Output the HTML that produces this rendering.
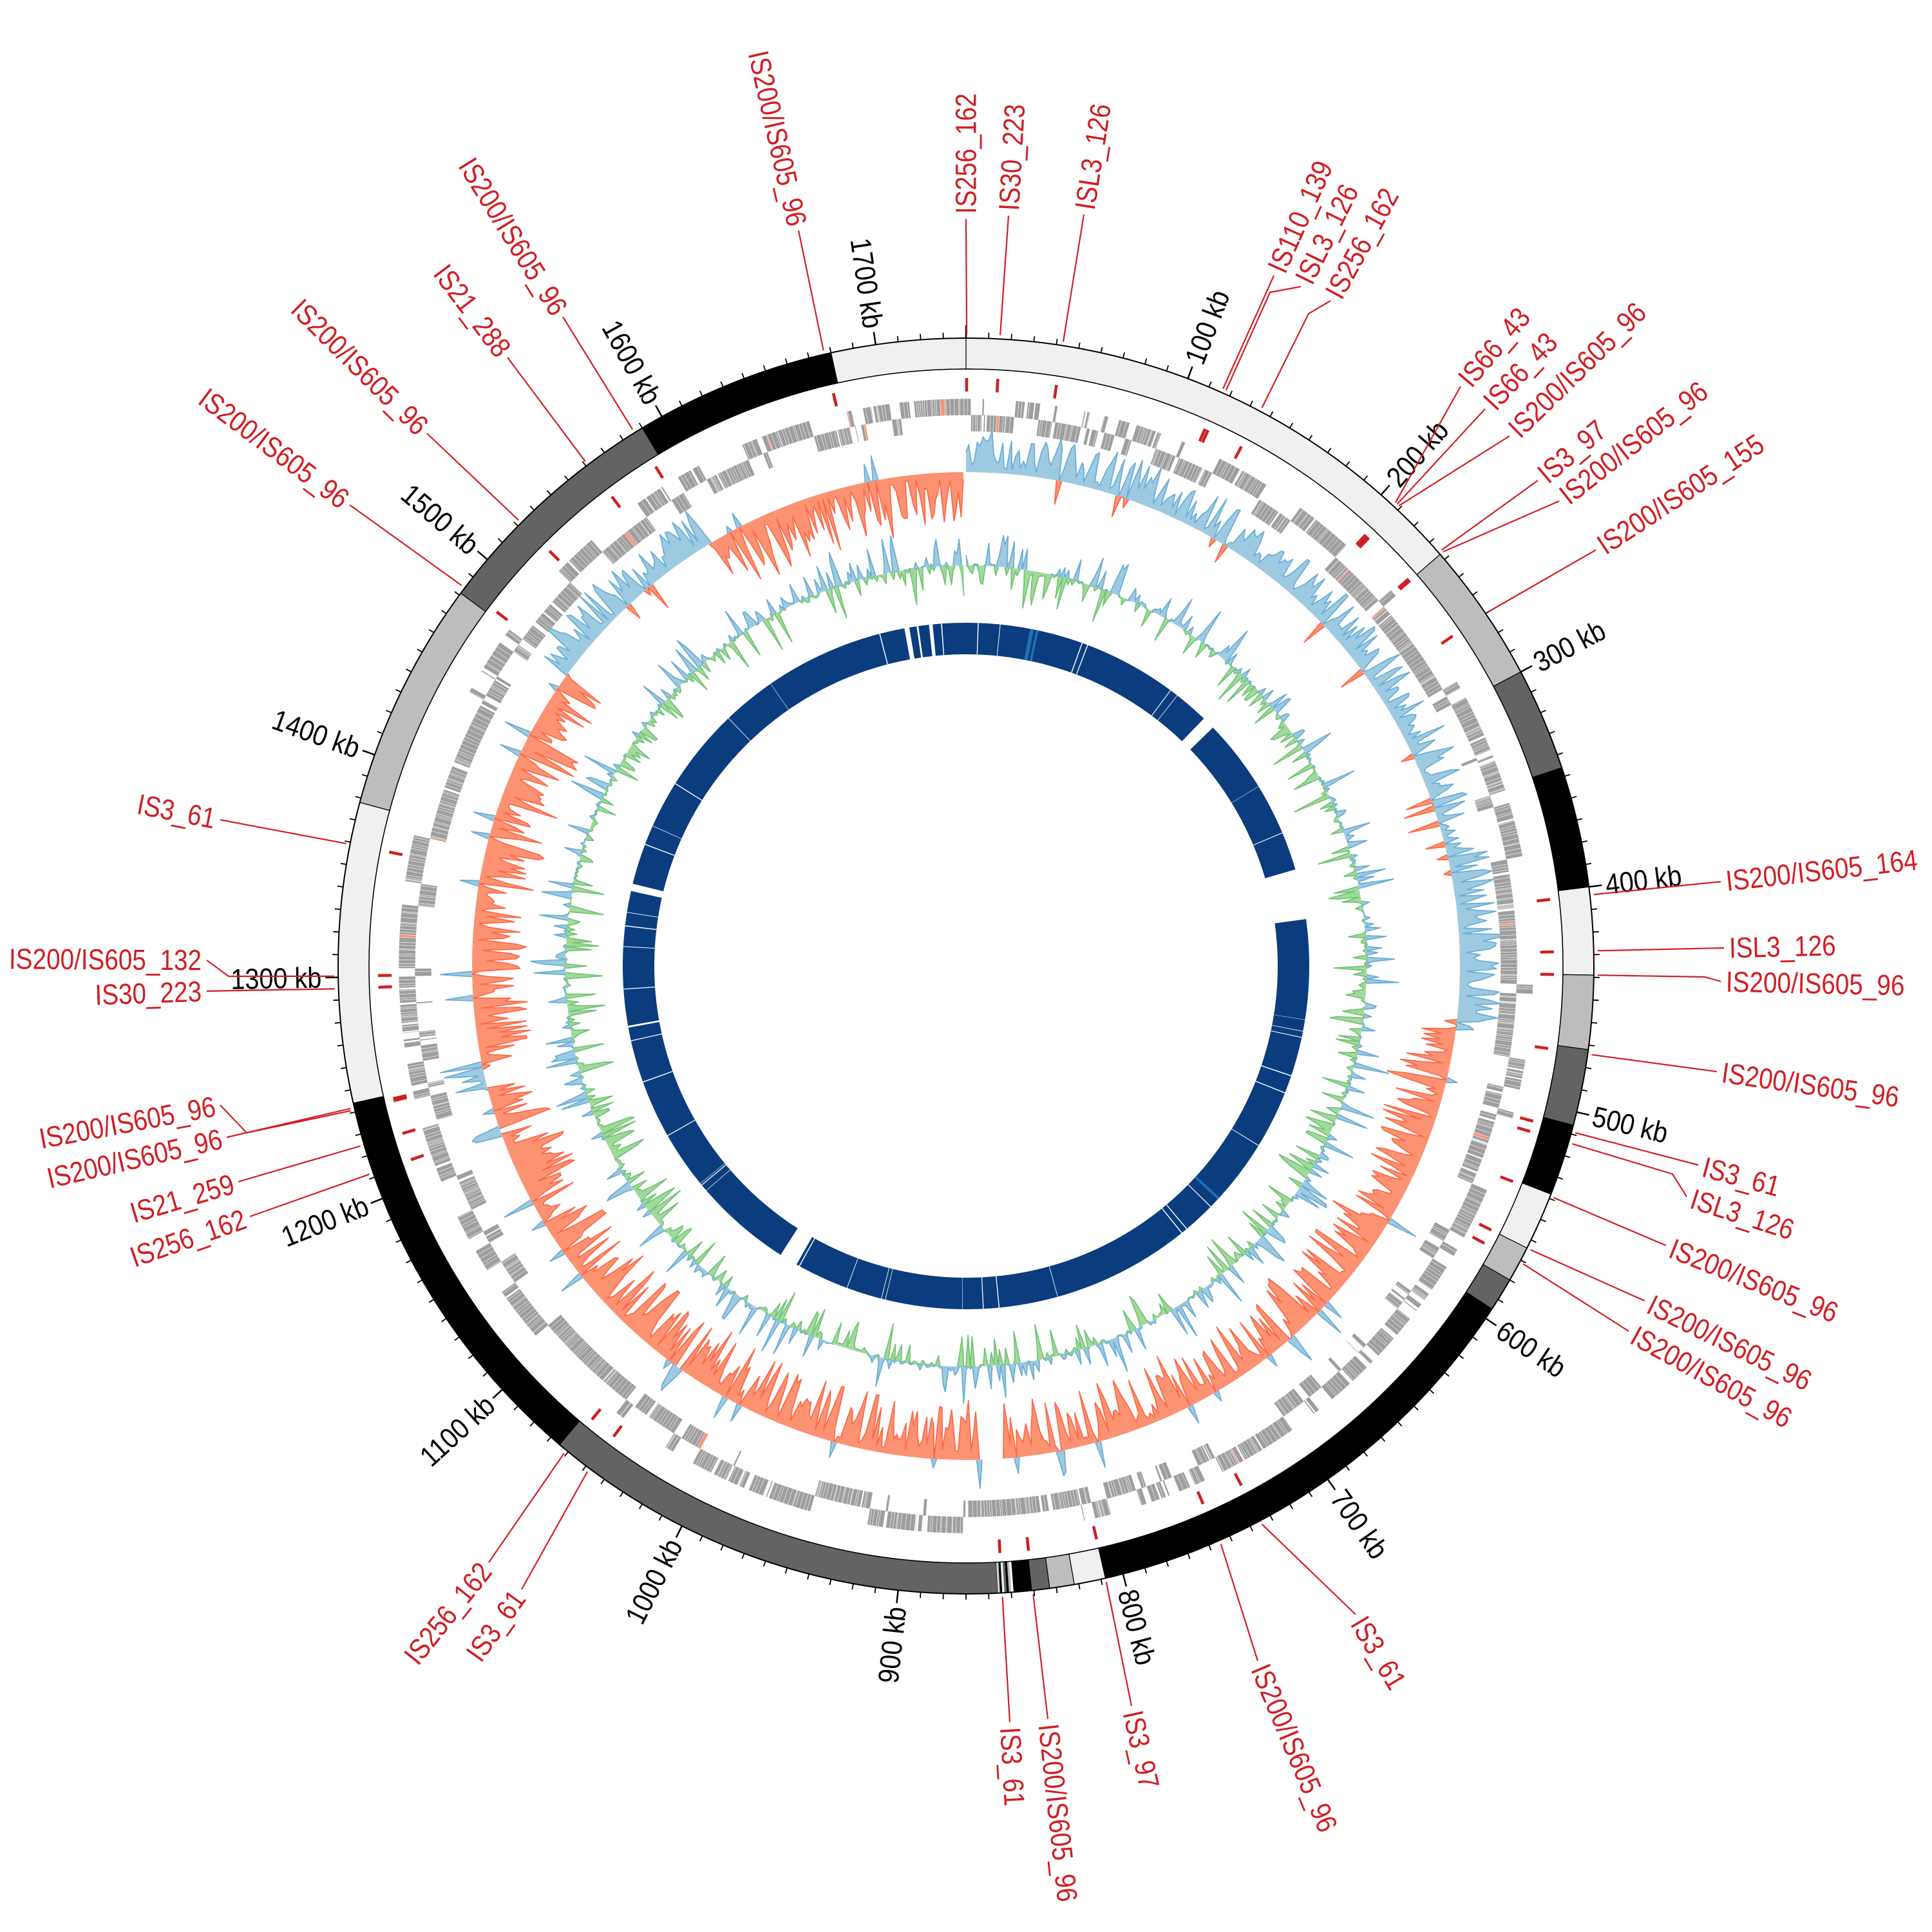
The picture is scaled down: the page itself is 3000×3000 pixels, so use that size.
<!DOCTYPE html>
<html><head><meta charset="utf-8">
<style>html,body{margin:0;padding:0;background:#fff}svg{display:block}</style>
</head><body>
<svg id="s" xmlns="http://www.w3.org/2000/svg" width="3000" height="3000" viewBox="0 0 3000 3000"></svg>
<script>
(function(){
const S=document.getElementById('s');
const C=1500,L=1740,R=975,RIN=927,RED='#cf1f25';
let seed=12345;function rnd(){seed|=0;seed=seed+0x6D2B79F5|0;let t=Math.imul(seed^seed>>>15,1|seed);t=t+Math.imul(t^t>>>7,61|t)^t;return((t^t>>>14)>>>0)/4294967296;}
function P(kb,r){const a=kb/L*2*Math.PI;return[C+r*Math.sin(a),C-r*Math.cos(a)];}
function f(v){return v.toFixed(1);}
let out=[];
function arc(k1,k2,r1,r2,fill,extra){
  const n=Math.max(2,Math.ceil((k2-k1)/2));let pts=[];
  for(let i=0;i<=n;i++){const p=P(k1+(k2-k1)*i/n,r2);pts.push(f(p[0])+','+f(p[1]));}
  for(let i=n;i>=0;i--){const p=P(k1+(k2-k1)*i/n,r1);pts.push(f(p[0])+','+f(p[1]));}
  out.push('<polygon points="'+pts.join(' ')+'" fill="'+fill+'" '+(extra||'')+'/>');
}
function circle(r,st,w){out.push('<circle cx="'+C+'" cy="'+C+'" r="'+r+'" fill="none" stroke="'+st+'" stroke-width="'+w+'"/>');}
const segs=[[0,237,'#f0f0f0'],[237,300,'#bdbdbd'],[300,346,'#636363'],[346,400,'#000'],[400,439,'#f0f0f0'],[439,472,'#bdbdbd'],[472,506,'#636363'],[506,538,'#000'],[538,564,'#f0f0f0'],[564,580,'#bdbdbd'],[580,595,'#636363'],[595,808,'#000'],[808,822,'#f0f0f0'],[822,833,'#bdbdbd'],[833,841,'#636363'],[841,848,'#000'],[848,856,'#999'],[856,1065,'#636363'],[1065,1244,'#000'],[1244,1378,'#f0f0f0'],[1378,1481,'#bdbdbd'],[1481,1590,'#636363'],[1590,1680,'#000'],[1680,1740,'#f0f0f0']];
segs.forEach(s=>arc(s[0],s[1],RIN,R,s[2],'stroke="#000" stroke-width="1.2"'));
const stc=['#000','#fff','#bbb','#000','#666','#eee','#000','#ccc'];
for(let i=0;i<8;i++)arc(848+i,849+i,RIN,R,stc[i]);
circle(R,'#000',2);circle(RIN,'#000',1.5);
for(let k=0;k<L;k+=10){const maj=k%100==0;const a=P(k,R),b=P(k,R+(maj?20:9));out.push('<line x1="'+f(a[0])+'" y1="'+f(a[1])+'" x2="'+f(b[0])+'" y2="'+f(b[1])+'" stroke="#000" stroke-width="'+(maj?2.5:1.8)+'"/>');}
const FONT='font-family="Liberation Sans, DejaVu Sans, sans-serif"';
for(let k=100;k<L;k+=100){const th=k/L*360;const p=P(k,R+26);let rot,anc;if(th<180){rot=th-90;anc='start';}else{rot=th+90;anc='end';}
 out.push('<text transform="translate('+f(p[0])+','+f(p[1])+') rotate('+f(rot)+') scale(0.88,1)" text-anchor="'+anc+'" dominant-baseline="central" font-size="45" '+FONT+' fill="#000">'+k+' kb</text>');}
const labs=[
['IS200/IS605_96',1677,[[1240,358]]],['IS256_162',0.3,[[1500,340]]],['IS30_223',15,[[1566,335]]],['ISL3_126',42.8,[[1683,333]]],
['IS110_139',116,[[1978,428]]],['ISL3_126',117.5,[[1972,454],[2020,445]]],['IS256_162',135,[[2032,487],[2066,467]]],
['IS66_43',207,[[2268,600]]],['IS66_43',208,[[2306,635]]],['IS200/IS605_96',209,[[2344,677]]],['IS3_97',236,[[2388,746]]],
['IS200/IS605_96',237,[[2421,778]]],['IS200/IS605_155',270,[[2478,854]]],['IS200/IS605_164',403.6,[[2672,1369]]],
['ISL3_126',428.3,[[2677,1472]]],['IS200/IS605_96',439,[[2647,1517],[2672,1524]]],['IS200/IS605_96',474,[[2666,1664]]],
['IS3_61',509,[[2637,1809]]],['ISL3_126',514,[[2597,1823],[2619,1858]]],['IS200/IS605_96',539,[[2587,1934]]],
['IS200/IS605_96',564,[[2554,2020]]],['IS200/IS605_96',571,[[2529,2067]]],['IS3_61',735,[[2105,2507]]],
['IS200/IS605_96',755,[[1953,2579]]],['IS3_97',808,[[1757,2649]]],['IS200/IS605_96',840.5,[[1627,2669]]],['IS3_61',854,[[1568,2674]]],
['IS3_61',1048,[[810,2468]]],['IS256_162',1061,[[759,2426]]],['IS256_162',1212,[[388,1889]]],['IS21_259',1225,[[370,1835]]],
['IS200/IS605_96',1242,[[352,1766]]],['IS200/IS605_96',1241,[[383,1759],[342,1716]]],['IS30_223',1295,[[321,1539]]],
['IS200/IS605_132',1300.5,[[355,1516],[321,1491]]],['IS3_61',1359,[[342,1273]]],['IS200/IS605_96',1484,[[543,784]]],
['IS200/IS605_96',1522,[[663,673]]],['IS21_288',1561,[[788,555]]],['IS200/IS605_96',1586,[[874,492]]]];
let lab=[];
labs.forEach(l=>{const s=P(l[1],R+6);let pts=[f(s[0])+','+f(s[1])];l[2].forEach(q=>pts.push(q[0]+','+q[1]));
 lab.push('<polyline points="'+pts.join(' ')+'" fill="none" stroke="'+RED+'" stroke-width="2.2"/>');
 const a=l[2][l[2].length-1];let phi=Math.atan2(a[0]-C,-(a[1]-C))*180/Math.PI;if(phi<0)phi+=360;
 const ux=Math.sin(phi*Math.PI/180),uy=-Math.cos(phi*Math.PI/180);const tx=a[0]+8*ux,ty=a[1]+8*uy;
 let rot,anc;if(phi<180){rot=phi-90;anc='start';}else{rot=phi+90;anc='end';}
 lab.push('<text transform="translate('+f(tx)+','+f(ty)+') rotate('+f(rot)+') scale(0.86,1)" text-anchor="'+anc+'" dominant-baseline="central" font-size="45" '+FONT+' fill="'+RED+'">'+l[0]+'</text>');
 arc(l[1]-0.7,l[1]+0.7,892,913,RED);
});
let pos=0,lane=0;
while(pos<L){const gl=0.3+rnd()*2.2;if(rnd()<0.12)lane=1-lane;
 if(rnd()>0.03){const col=rnd()<0.015?'#fc9272':'#9e9e9e';if(lane==0)arc(pos,pos+gl,855,881,col,'stroke="#fff" stroke-width="0.5"');else arc(pos,pos+gl,830,856,col,'stroke="#fff" stroke-width="0.5"');}
 pos+=gl+(rnd()<0.05?rnd()*1.2:0.03);}
function area(vals,base,col,st,sign){let pts=[];const n=vals.length;
 let segsS=[],cur=[];
 for(let i=0;i<n;i++){let v=vals[i];v=sign>0?Math.max(v,0):Math.min(v,0);const p=P(i*L/n,base+v);const s=f(p[0])+','+f(p[1]);pts.push(s);
  const nz=(vals[i]*sign>0)||(i>0&&vals[i-1]*sign>0)||(i<n-1&&vals[i+1]*sign>0);
  if(nz)cur.push(s);else if(cur.length){segsS.push(cur);cur=[];}}
 if(cur.length)segsS.push(cur);
 for(let i=n-1;i>=0;i-=4){const p=P(i*L/n,base);pts.push(f(p[0])+','+f(p[1]));}
 const p0=P(0,base);pts.push(f(p0[0])+','+f(p0[1]));
 out.push('<polygon points="'+pts.join(' ')+'" fill="'+col+'" stroke="none"/>');
 segsS.forEach(sg=>{if(sg.length>1)out.push('<polyline points="'+sg.join(' ')+'" fill="none" stroke="'+st+'" stroke-width="1.8" stroke-linejoin="round"/>');});}
function sg(k){if(k<470)return 1;if(k>=1235&&k<1250)return 1;if(k<1480)return -1;if(k<1590)return 1;return -1;}
let sk=[];const N=1160;
for(let i=0;i<N;i++){const k=i*L/N;let s=sg(k);let v;
 if(k>848&&k<862){sk.push(0);continue;}
 let amp=Math.pow(rnd(),1.3);v=s>0?(6+60*amp):-(8+85*amp);
 if(rnd()<0.07)v=-Math.sign(v)*(10+40*rnd());
 sk.push(v);}
area(sk,767,'#9ecae1','#6baed6',1);area(sk,767,'#fc9272','#fb6a4a',-1);
let gc=[];let bias=0;
for(let i=0;i<N;i++){bias=bias*0.95+(rnd()-0.5)*0.6;let v=(rnd()<0.5+bias*0.15?1:-1)*(2+55*Math.pow(rnd(),3.2));gc.push(v+bias*2);}
area(gc,622,'#9ecae1','#6baed6',1);area(gc,622,'#a1d99b','#74c476',-1);
const gaps=[[212,222],[356,397],[1013,1028],[1690,1694],[1710,1713],[1366,1372],[1700,1701.5],[1255,1256.5]];
let cur=0;gaps.sort((a,b)=>a[0]-b[0]);
gaps.forEach(g=>{arc(cur,g[0],484,533,'#0b3d7e');cur=g[1];});arc(cur,L,484,533,'#0b3d7e');
for(let i=0;i<45;i++){const k=rnd()*L;arc(k,k+0.25+rnd()*0.6,484,533,'#fff');}
arc(52,55,484,533,'#2171b5');arc(57,59,484,533,'#2171b5');arc(640,642,484,533,'#2171b5');
S.innerHTML=out.join('')+lab.join('');
})();
</script>
</body></html>
